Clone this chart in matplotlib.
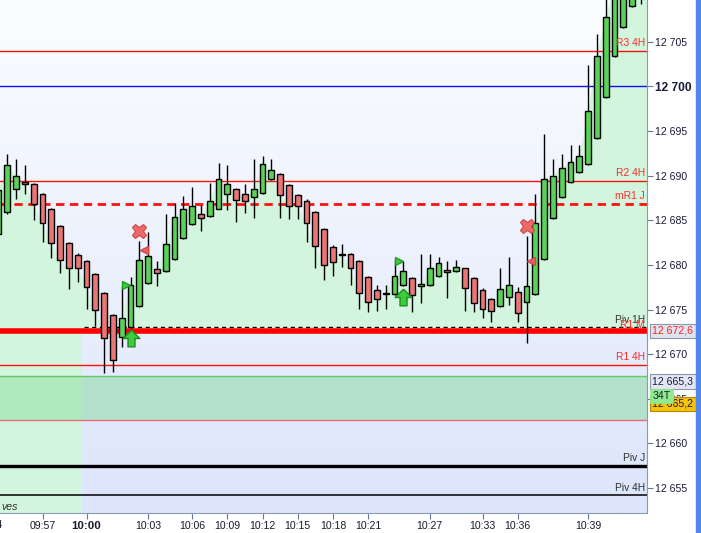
import numpy as np
import matplotlib.pyplot as plt
from matplotlib.patches import Rectangle
from matplotlib.colors import LinearSegmentedColormap
from matplotlib.transforms import blended_transform_factory, offset_copy

plt.rcParams['font.family'] = ['Liberation Sans', 'DejaVu Sans']

# 34-tick candles
opens = [12683.5, 12685.9, 12688.5, 12689.3, 12689.1, 12687.9, 12686.3, 12684.4, 12682.5, 12681.1,
         12680.4, 12679.0, 12676.9, 12674.4, 12671.9, 12673.0, 12675.4, 12678.0, 12679.5, 12679.3,
         12680.7, 12683.0, 12684.6, 12685.7, 12685.5, 12686.3, 12687.9, 12688.5, 12687.9, 12687.6,
         12688.0, 12689.6, 12690.2, 12688.9, 12687.8, 12687.1, 12685.9, 12684.0, 12682.0, 12681.1,
         12681.2, 12680.4, 12678.6, 12677.2, 12676.7, 12676.7, 12677.7, 12678.5, 12677.6, 12677.7,
         12678.7, 12679.4, 12679.3, 12679.6, 12678.5, 12677.2, 12676.2, 12675.4, 12676.4, 12677.0,
         12675.8, 12676.7, 12680.7, 12685.2, 12687.6, 12689.3, 12690.4, 12691.3, 12694.2, 12698.8,
         12703.4, 12706.6, 12709.0, 12711.0]
highs = [12689.0, 12692.4, 12691.9, 12691.2, 12689.2, 12688.0, 12686.4, 12684.5, 12682.6, 12681.3,
         12680.5, 12679.1, 12677.0, 12674.5, 12677.6, 12678.6, 12682.7, 12683.7, 12680.4, 12685.7,
         12686.9, 12687.7, 12688.7, 12686.7, 12689.2, 12691.4, 12691.2, 12688.6, 12689.0, 12691.9,
         12692.2, 12691.8, 12690.3, 12689.0, 12687.9, 12687.4, 12686.0, 12684.1, 12682.2, 12682.3,
         12681.3, 12680.5, 12678.7, 12677.7, 12677.7, 12680.6, 12680.4, 12678.6, 12681.2, 12681.2,
         12680.9, 12680.4, 12680.6, 12679.7, 12678.6, 12677.4, 12676.3, 12679.6, 12680.9, 12677.5,
         12683.2, 12687.9, 12694.7, 12691.8, 12692.4, 12693.4, 12693.4, 12702.4, 12705.8, 12711.0,
         12713.0, 12713.0, 12713.0, 12714.0]
lows = [12683.0, 12685.7, 12687.4, 12687.9, 12685.0, 12682.6, 12680.8, 12679.1, 12677.3, 12678.1,
        12675.1, 12673.2, 12667.9, 12668.0, 12670.8, 12672.9, 12675.3, 12677.9, 12677.6, 12679.2,
        12680.6, 12682.9, 12684.5, 12683.8, 12685.4, 12686.2, 12686.1, 12684.8, 12685.8, 12685.3,
        12687.9, 12689.5, 12685.3, 12685.1, 12685.1, 12682.6, 12679.6, 12678.3, 12678.8, 12679.8,
        12677.8, 12675.1, 12674.7, 12674.8, 12675.1, 12676.6, 12677.6, 12674.7, 12675.7, 12677.6,
        12678.6, 12676.3, 12679.2, 12674.8, 12674.7, 12674.1, 12673.6, 12675.3, 12675.5, 12673.6,
        12671.3, 12676.6, 12680.6, 12685.1, 12687.5, 12689.2, 12690.3, 12691.2, 12694.1, 12698.7,
        12703.3, 12706.5, 12708.9, 12709.2]
closes = [12688.4, 12691.2, 12690.0, 12689.0, 12686.8, 12684.7, 12682.5, 12680.5, 12679.6, 12679.7,
          12677.5, 12675.0, 12671.8, 12669.3, 12674.1, 12677.8, 12680.6, 12681.0, 12679.1, 12682.3,
          12685.4, 12686.2, 12686.6, 12685.3, 12687.1, 12689.6, 12689.0, 12687.3, 12687.2, 12688.5,
          12691.3, 12690.6, 12687.8, 12686.6, 12686.6, 12684.7, 12682.1, 12680.0, 12680.3, 12681.1,
          12679.6, 12676.8, 12675.8, 12676.2, 12676.7, 12678.8, 12679.3, 12676.6, 12677.9, 12679.6,
          12680.2, 12679.2, 12679.8, 12677.4, 12675.7, 12675.1, 12674.8, 12677.3, 12677.7, 12674.6,
          12677.6, 12684.7, 12689.6, 12690.0, 12690.9, 12691.5, 12692.2, 12697.2, 12703.4, 12707.8,
          12711.0, 12711.5, 12712.0, 12712.5]

time_pos = [5, 10, 17, 22, 26, 30, 34, 38, 42, 49, 55, 59, 67]
time_labels = ['09:57', '10:00', '10:03', '10:06', '10:09', '10:12', '10:15', '10:18',
               '10:21', '10:27', '10:33', '10:36', '10:39']

level_names = ['R3 4H', '', 'R2 4H', 'mR1 J', 'Piv 1H', 'R1 M', 'R1 4H', 'Piv J', 'Piv 4H']
level_values = [12704.0, 12700.0, 12689.4, 12686.85, 12673.0, 12672.6, 12668.8, 12657.5, 12654.2]

band_low, band_high = 12662.6, 12667.6

# signals
sell_x, sell_y = [16, 60], [12683.8, 12684.3]
exit_x, exit_y = [16.5, 60.5], [12681.7, 12680.4]
entry_x, entry_y = [14.45, 45.5], [12677.8, 12680.4]
up_x, up_y = [15, 46], [12671.8, 12676.4]

opens, highs, lows, closes = map(np.array, (opens, highs, lows, closes))
idx = np.arange(len(opens))

xmin, xmax = 0.17, 73.69
ymin, ymax = 12652.18, 12709.66

fig = plt.figure(figsize=(7.01, 5.33), dpi=100)
fig.patch.set_facecolor('white')
ax = fig.add_axes([0, 19.7 / 533, 647 / 701, 513.3 / 533])
ax.set_xlim(xmin, xmax)
ax.set_ylim(ymin, ymax)

# background gradient
bg = LinearSegmentedColormap.from_list('bg', ['#fcfdff', '#dce5fb'])
ax.imshow(np.linspace(0, 1, 256).reshape(-1, 1), extent=[xmin, xmax, ymin, ymax],
          aspect='auto', cmap=bg, zorder=0)

# green cloud
cx = np.append(idx, xmax)
ctop = np.append(closes, closes[-1])
split = 9.5
left = ax.fill_between(cx, ymin, ctop, color='#d3f5de', lw=0, zorder=1)
left.set_clip_path(Rectangle((xmin, ymin), split - xmin, ymax - ymin, transform=ax.transData))
right = ax.fill_between(cx, level_values[5], ctop, where=ctop >= level_values[5],
                        interpolate=True, color='#d3f5de', lw=0, zorder=1)
right.set_clip_path(Rectangle((split, ymin), xmax - split, ymax - ymin, transform=ax.transData))

# band
ax.axhspan(band_low, band_high, color='#b4e1cb', lw=0, zorder=1.5)
ax.fill_between([xmin, split], band_low, band_high, color='#aeeabe', lw=0, zorder=1.6)
ax.axhline(band_high, color='#66c766', lw=1, zorder=2)
ax.axhline(band_low, color='#e87070', lw=1, zorder=2)

# levels
ax.axhline(level_values[0], color='#ff1010', lw=1, zorder=2)
ax.axhline(level_values[1], color='#1010ff', lw=1, zorder=2)
ax.axhline(level_values[2], color='#ff1010', lw=1, zorder=2)
ax.axhline(level_values[3], color='#ff1010', lw=2, ls=(0, (3, 2)), zorder=2)
ax.hlines(level_values[4], 9.7, xmax, color='black', lw=1, linestyles=(0, (3, 2.5)), zorder=2)
ax.axhline(level_values[5], color='#ff0000', lw=4, zorder=2)
ax.axhline(level_values[6], color='#ff1010', lw=1, zorder=2)
ax.axhline(level_values[7], color='black', lw=2.4, zorder=2)
ax.axhline(level_values[8], color='black', lw=1.1, zorder=2)

red_lv = {'R3 4H', 'R2 4H', 'mR1 J', 'R1 M', 'R1 4H'}
for name, val in zip(level_names, level_values):
    if not name:
        continue
    off = 1.0 if name == 'R1 M' else 1.8
    tr = offset_copy(ax.transData, fig=fig, x=0, y=off, units='points')
    ax.text(73.45, val, name, transform=tr, ha='right', va='bottom', fontsize=7.4,
            color='#ff2a2a' if name in red_lv else '#303030', zorder=6)

# candles
ax.vlines(idx, lows, highs, color='black', lw=1, zorder=4)
body = closes - opens
body = np.where(np.abs(body) < 0.1, 0.12, body)
colors = np.where(closes >= opens, '#58d358', '#ea7676')
ax.bar(idx, body, bottom=opens, width=0.66, color=colors, edgecolor='black',
       linewidth=1, zorder=5)

# signals
ax.plot(sell_x, sell_y, ls='none', marker='X', ms=10.5, mfc='#ec6a6a', mec='#d04848', mew=0.8, zorder=7)
ax.plot(exit_x, exit_y, ls='none', marker='<', ms=6, mfc='#ec6060', mec='#d04848', zorder=7)
ax.plot(entry_x, entry_y, ls='none', marker='>', ms=6, mfc='#3ccc3c', mec='#1e9a1e', zorder=7)
arrow = [(0, 1), (1, 0), (0.42, 0), (0.42, -1), (-0.42, -1), (-0.42, 0), (-1, 0), (0, 1)]
ax.plot(up_x, up_y, ls='none', marker=arrow, ms=12, mfc='#3ccc3c', mec='#1e8c1e', mew=1, zorder=7)

# axes styling
for s in ['left', 'top']:
    ax.spines[s].set_visible(False)
for s in ['right', 'bottom']:
    ax.spines[s].set_color('#8a9bb0')
ax.yaxis.tick_right()
yt = np.arange(12655, 12706, 5)
ax.set_yticks(yt)
ax.set_yticklabels(['12 %03d' % (v - 12000) for v in yt])
ax.tick_params(axis='y', direction='out', length=4, color='#6a7b90', labelsize=7.6,
               labelcolor='#1a1a3a', pad=2)
for lab in ax.get_yticklabels():
    if lab.get_text() == '12 700':
        lab.set_fontweight('bold')
        lab.set_fontsize(8.6)
ax.set_xticks(time_pos)
ax.set_xticklabels(time_labels)
ax.tick_params(axis='x', direction='out', length=4, color='#6a7b90', labelsize=7.6,
               labelcolor='#1a1a2a', pad=1.5)
for lab in ax.get_xticklabels():
    if lab.get_text() == '10:00':
        lab.set_fontweight('bold')
        lab.set_fontsize(8.2)

# clipped edge labels
ax.text(-1.0, -0.022, '09:54', transform=blended_transform_factory(ax.transData, ax.transAxes),
        ha='center', va='center', fontsize=7.6, color='#1a1a2a', clip_on=False)
ax.text(1.0, 12710, '-  12 710', transform=blended_transform_factory(ax.transAxes, ax.transData),
        ha='left', va='center', fontsize=7.6, color='#1a1a3a', clip_on=False)
ax.text(0.002, 0.013, 'ves', transform=ax.transAxes, style='italic', fontsize=7.6,
        color='#303030', va='center', zorder=6)

# price boxes on the scale
bt = blended_transform_factory(ax.transAxes, ax.transData)
ax.text(1.0085, 12672.6, '12 672,6', transform=bt, ha='left', va='center', fontsize=7.6,
        color='#ff2020', clip_on=False, zorder=8,
        bbox=dict(boxstyle='square,pad=0.2', fc='#dfe4ee', ec='#8a98aa', lw=0.8))
tr = offset_copy(bt, fig=fig, x=0, y=10.5, units='points')
ax.text(1.0085, 12665.3, '12 665,3', transform=tr, ha='left', va='center', fontsize=7.6,
        color='#1a1a3a', clip_on=False, zorder=8,
        bbox=dict(boxstyle='square,pad=0.2', fc='#e4e6f4', ec='#8a98aa', lw=0.8))
tr = offset_copy(bt, fig=fig, x=0, y=-5, units='points')
ax.text(1.0085, 12665.2, '12 665,2', transform=tr, ha='left', va='center', fontsize=7.6,
        color='#1a1a3a', clip_on=False, zorder=8,
        bbox=dict(boxstyle='square,pad=0.2', fc='#f7c20a', ec='#b08a00', lw=0.8))
tr = offset_copy(bt, fig=fig, x=0, y=0.5, units='points')
ax.text(1.0085, 12665.2, '34T', transform=tr, ha='left', va='center', fontsize=7.6,
        color='#1a1a3a', clip_on=False, zorder=9,
        bbox=dict(boxstyle='square,pad=0.2', fc='#8eec8e', ec='#8eec8e', lw=0.5))

# blue edge bar
fig.patches.append(Rectangle((696 / 701, 0), 5 / 701, 1, transform=fig.transFigure,
                             color='#4f86e8', zorder=0))

fig.savefig('out.png', dpi=100)
